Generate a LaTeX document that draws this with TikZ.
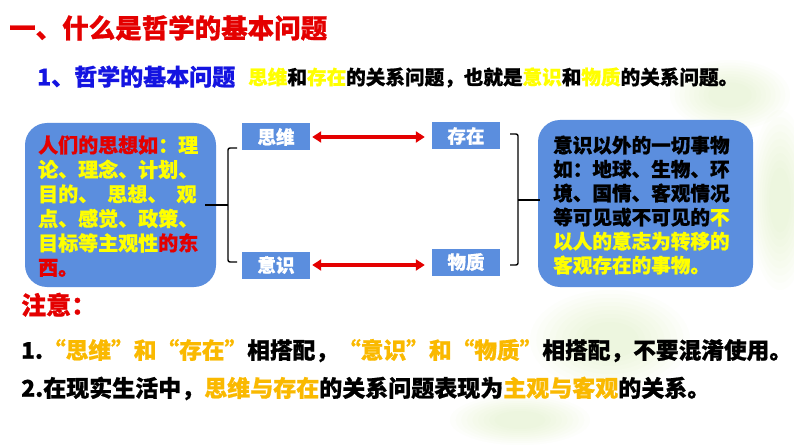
\documentclass[tikz,border=0pt]{standalone}
\usepackage{fontspec}
\setmainfont{Noto Sans CJK SC}[BoldFont={Noto Sans CJK SC Black},BoldFeatures={FakeBold=0.8}]
\usetikzlibrary{arrows.meta}
\definecolor{boxblue}{RGB}{91,142,222}
\definecolor{tred}{RGB}{228,0,0}
\definecolor{tblue}{RGB}{20,20,225}
\definecolor{yel}{RGB}{255,255,0}
\definecolor{org}{RGB}{250,185,0}
\definecolor{leaf}{RGB}{200,228,150}
\newcommand{\fs}[1]{\fontsize{#1}{#1}\selectfont}
\begin{document}
\begin{tikzpicture}[x=1pt,y=-1pt,
  txt/.style={anchor=base west,inner sep=0pt,font=\bfseries},
  bigbox/.style={fill=boxblue,rounded corners=22pt},
  lbl/.style={fill=boxblue,text=white,font=\bfseries\fs{18.5},minimum width=68pt,minimum height=27pt,inner sep=0pt},
  brk/.style={draw=black,line width=1.4pt,rounded corners=2pt},
  dbl/.style={draw=tred,line width=3.2pt,{Triangle[length=9pt,width=11pt]}-{Triangle[length=9pt,width=11pt]},shorten <=2pt,shorten >=7pt}]
\useasboundingbox (0,0) rectangle (794,446);
\fill[white] (0,0) rectangle (794,446);
% faint background leaves (soft layered blobs)
\begin{scope}[fill=leaf,fill opacity=0.035]
\foreach \s in {1,0.92,...,0.3}{
\fill (730,95) ellipse ({60*\s} and {35*\s});
\fill (780,200) ellipse ({30*\s} and {90*\s});
\fill (610,340) ellipse ({80*\s} and {50*\s});
\fill (520,420) ellipse ({70*\s} and {25*\s});
}
\end{scope}
% title
\node[txt,text=tred,font=\bfseries\fs{26.5}] (title) at (9,38) {一、什么是哲学的基本问题};
\node[txt,text=tblue,font=\bfseries\fs{23}] (sub) at (37,85.5) {1、哲学的基本问题};
\node[txt,font=\bfseries\fs{19.6}] (subb) at (248,84.5) {\textcolor{yel}{思维}和\textcolor{yel}{存在}的关系问题，也就是\textcolor{yel}{意识}和\textcolor{yel}{物质}的关系问题。};
% left box
\fill[bigbox] (25,123) rectangle (216,287);
\begin{scope}[every node/.style={txt,font=\bfseries\fs{20}}]
\node (l1) at (38,152.6) {\textcolor{tred}{人们的思想如}\textcolor{yel}{：理}};
\node[text=yel] (l2) at (38,177.1) {论、理念、计划、};
\node[text=yel] (l3) at (38,201.6) {目的、\ \ 思想、\ \ 观};
\node[text=yel] (l4) at (38,226.1) {点、感觉、政策、};
\node (l5) at (38,250.6) {\textcolor{yel}{目标等主观性}\textcolor{tred}{的东}};
\node[text=tred] (l6) at (38,275.1) {西。};
\end{scope}
% right box
\fill[bigbox] (538,120) rectangle (753,287);
\begin{scope}[every node/.style={txt,font=\bfseries\fs{19.6}}]
\node (r1) at (553,152.6) {意识以外的一切事物};
\node (r2) at (553,176.6) {如：地球、生物、环};
\node (r3) at (553,200.6) {境、国情、客观情况};
\node (r4) at (553,224.6) {等可见或不可见的\textcolor{yel}{不}};
\node[text=yel] (r5) at (553,248.6) {以人的意志为转移的};
\node[text=yel] (r6) at (553,272.6) {客观存在的事物。};
\end{scope}
% small labels
\node[lbl] (sw) at (276,137) {思维};
\node[lbl] (cz) at (466,136) {存在};
\node[lbl] (ys) at (276,265) {意识};
\node[lbl] (wz) at (466,262) {物质};
\draw[dbl] (sw.east) -- (sw.east -| cz.west);
\draw[dbl] (ys.east) -- (ys.east -| wz.west);
% brackets
\coordinate (lbm) at (205,205);
\draw[brk] (237,148) -- (228,148) -- (228,262) -- (237,262);
\draw[brk] (lbm) -- (228,205);
\draw[brk] (510,134) -- (518,134) -- (518,265) -- (510,265);
\draw[brk] (518,200) -- (540,200);
% notes
\node[txt,text=tred,font=\bfseries\fs{25}] (zy) at (21,314.5) {注意：};
\node[txt,font=\bfseries\fs{22.7}] (n1) at (21,358.7) {1.\textcolor{org}{“思维”和“存在”}相搭配，\textcolor{org}{“意识”和“物质”}相搭配，不要混淆使用。};
\node[txt,font=\bfseries\fs{23}] (n2) at (21,396.7) {2.在现实生活中，\textcolor{org}{思维与存在}的关系问题表现为\textcolor{org}{主观与客观}的关系。};
\end{tikzpicture}
\end{document}
